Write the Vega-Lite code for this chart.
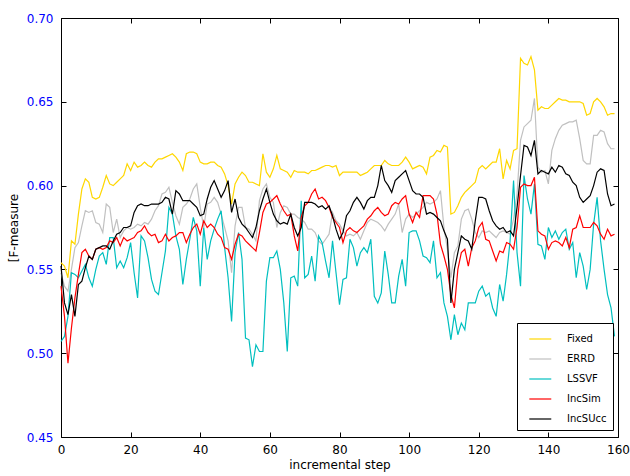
{
"$schema": "https://vega.github.io/schema/vega-lite/v6.json",
"width": 557, "height": 419,
"autosize": {"type": "none"},
"padding": {"left": 61, "top": 18, "right": 12, "bottom": 39},
"background": "white",
"config": {
  "font": "DejaVu Sans",
  "view": {"stroke": "black", "strokeWidth": 1},
  "axis": {"grid": false, "domain": false, "tickColor": "black", "tickSize": -5, "tickWidth": 1, "labelFlush": false,
           "labelFontSize": 12, "labelColor": "black", "titleFontSize": 12, "titleFontWeight": "normal", "titleColor": "black"}
},
"data": {"values": [
{"step":0,"Fixed":0.554,"ERRD":0.548,"LSSVF":0.507,"IncSim":0.540,"IncSUcc":0.552},
{"step":1,"Fixed":0.552,"ERRD":0.540,"LSSVF":0.510,"IncSim":0.522,"IncSUcc":0.530},
{"step":2,"Fixed":0.545,"ERRD":0.537,"LSSVF":0.522,"IncSim":0.494,"IncSUcc":0.523},
{"step":3,"Fixed":0.567,"ERRD":0.550,"LSSVF":0.548,"IncSim":0.515,"IncSUcc":0.535},
{"step":4,"Fixed":0.565,"ERRD":0.563,"LSSVF":0.547,"IncSim":0.533,"IncSUcc":0.522},
{"step":5,"Fixed":0.583,"ERRD":0.566,"LSSVF":0.545,"IncSim":0.547,"IncSUcc":0.541},
{"step":6,"Fixed":0.598,"ERRD":0.576,"LSSVF":0.549,"IncSim":0.560,"IncSUcc":0.543},
{"step":7,"Fixed":0.604,"ERRD":0.585,"LSSVF":0.553,"IncSim":0.562,"IncSUcc":0.551},
{"step":8,"Fixed":0.602,"ERRD":0.584,"LSSVF":0.545,"IncSim":0.558,"IncSUcc":0.558},
{"step":9,"Fixed":0.593,"ERRD":0.585,"LSSVF":0.540,"IncSim":0.556,"IncSUcc":0.556},
{"step":10,"Fixed":0.592,"ERRD":0.578,"LSSVF":0.550,"IncSim":0.562,"IncSUcc":0.562},
{"step":11,"Fixed":0.593,"ERRD":0.577,"LSSVF":0.558,"IncSim":0.563,"IncSUcc":0.563},
{"step":12,"Fixed":0.599,"ERRD":0.572,"LSSVF":0.560,"IncSim":0.562,"IncSUcc":0.564},
{"step":13,"Fixed":0.606,"ERRD":0.589,"LSSVF":0.553,"IncSim":0.563,"IncSUcc":0.564},
{"step":14,"Fixed":0.601,"ERRD":0.587,"LSSVF":0.569,"IncSim":0.567,"IncSUcc":0.562},
{"step":15,"Fixed":0.600,"ERRD":0.572,"LSSVF":0.569,"IncSim":0.566,"IncSUcc":0.567},
{"step":16,"Fixed":0.602,"ERRD":0.580,"LSSVF":0.551,"IncSim":0.569,"IncSUcc":0.571},
{"step":17,"Fixed":0.604,"ERRD":0.569,"LSSVF":0.555,"IncSim":0.564,"IncSUcc":0.572},
{"step":18,"Fixed":0.606,"ERRD":0.573,"LSSVF":0.551,"IncSim":0.569,"IncSUcc":0.575},
{"step":19,"Fixed":0.613,"ERRD":0.575,"LSSVF":0.557,"IncSim":0.567,"IncSUcc":0.575},
{"step":20,"Fixed":0.609,"ERRD":0.574,"LSSVF":0.566,"IncSim":0.568,"IncSUcc":0.576},
{"step":21,"Fixed":0.614,"ERRD":0.575,"LSSVF":0.548,"IncSim":0.569,"IncSUcc":0.584},
{"step":22,"Fixed":0.611,"ERRD":0.577,"LSSVF":0.533,"IncSim":0.572,"IncSUcc":0.588},
{"step":23,"Fixed":0.612,"ERRD":0.576,"LSSVF":0.570,"IncSim":0.573,"IncSUcc":0.589},
{"step":24,"Fixed":0.614,"ERRD":0.578,"LSSVF":0.567,"IncSim":0.576,"IncSUcc":0.588},
{"step":25,"Fixed":0.612,"ERRD":0.577,"LSSVF":0.557,"IncSim":0.572,"IncSUcc":0.588},
{"step":26,"Fixed":0.611,"ERRD":0.580,"LSSVF":0.544,"IncSim":0.570,"IncSUcc":0.589},
{"step":27,"Fixed":0.614,"ERRD":0.585,"LSSVF":0.537,"IncSim":0.571,"IncSUcc":0.589},
{"step":28,"Fixed":0.616,"ERRD":0.588,"LSSVF":0.535,"IncSim":0.566,"IncSUcc":0.589},
{"step":29,"Fixed":0.616,"ERRD":0.595,"LSSVF":0.548,"IncSim":0.567,"IncSUcc":0.590},
{"step":30,"Fixed":0.617,"ERRD":0.596,"LSSVF":0.561,"IncSim":0.571,"IncSUcc":0.593},
{"step":31,"Fixed":0.618,"ERRD":0.599,"LSSVF":0.587,"IncSim":0.567,"IncSUcc":0.592},
{"step":32,"Fixed":0.619,"ERRD":0.590,"LSSVF":0.583,"IncSim":0.569,"IncSUcc":0.583},
{"step":33,"Fixed":0.617,"ERRD":0.582,"LSSVF":0.570,"IncSim":0.570,"IncSUcc":0.597},
{"step":34,"Fixed":0.614,"ERRD":0.577,"LSSVF":0.562,"IncSim":0.572,"IncSUcc":0.595},
{"step":35,"Fixed":0.609,"ERRD":0.587,"LSSVF":0.541,"IncSim":0.572,"IncSUcc":0.591},
{"step":36,"Fixed":0.619,"ERRD":0.589,"LSSVF":0.556,"IncSim":0.566,"IncSUcc":0.591},
{"step":37,"Fixed":0.620,"ERRD":0.592,"LSSVF":0.568,"IncSim":0.571,"IncSUcc":0.591},
{"step":38,"Fixed":0.620,"ERRD":0.598,"LSSVF":0.581,"IncSim":0.575,"IncSUcc":0.589},
{"step":39,"Fixed":0.619,"ERRD":0.601,"LSSVF":0.573,"IncSim":0.577,"IncSUcc":0.587},
{"step":40,"Fixed":0.614,"ERRD":0.587,"LSSVF":0.540,"IncSim":0.571,"IncSUcc":0.582},
{"step":41,"Fixed":0.613,"ERRD":0.575,"LSSVF":0.575,"IncSim":0.579,"IncSUcc":0.583},
{"step":42,"Fixed":0.613,"ERRD":0.589,"LSSVF":0.556,"IncSim":0.575,"IncSUcc":0.592},
{"step":43,"Fixed":0.614,"ERRD":0.590,"LSSVF":0.567,"IncSim":0.577,"IncSUcc":0.599},
{"step":44,"Fixed":0.614,"ERRD":0.593,"LSSVF":0.574,"IncSim":0.575,"IncSUcc":0.603},
{"step":45,"Fixed":0.612,"ERRD":0.590,"LSSVF":0.580,"IncSim":0.571,"IncSUcc":0.598},
{"step":46,"Fixed":0.611,"ERRD":0.583,"LSSVF":0.585,"IncSim":0.569,"IncSUcc":0.593},
{"step":47,"Fixed":0.607,"ERRD":0.575,"LSSVF":0.563,"IncSim":0.563,"IncSUcc":0.597},
{"step":48,"Fixed":0.600,"ERRD":0.567,"LSSVF":0.545,"IncSim":0.562,"IncSUcc":0.603},
{"step":49,"Fixed":0.589,"ERRD":0.548,"LSSVF":0.519,"IncSim":0.556,"IncSUcc":0.584},
{"step":50,"Fixed":0.601,"ERRD":0.576,"LSSVF":0.560,"IncSim":0.565,"IncSUcc":0.592},
{"step":51,"Fixed":0.605,"ERRD":0.587,"LSSVF":0.572,"IncSim":0.571,"IncSUcc":0.581},
{"step":52,"Fixed":0.608,"ERRD":0.587,"LSSVF":0.556,"IncSim":0.570,"IncSUcc":0.577},
{"step":53,"Fixed":0.606,"ERRD":0.575,"LSSVF":0.509,"IncSim":0.567,"IncSUcc":0.575},
{"step":54,"Fixed":0.602,"ERRD":0.574,"LSSVF":0.508,"IncSim":0.565,"IncSUcc":0.572},
{"step":55,"Fixed":0.602,"ERRD":0.571,"LSSVF":0.492,"IncSim":0.563,"IncSUcc":0.569},
{"step":56,"Fixed":0.601,"ERRD":0.567,"LSSVF":0.505,"IncSim":0.561,"IncSUcc":0.575},
{"step":57,"Fixed":0.600,"ERRD":0.591,"LSSVF":0.501,"IncSim":0.572,"IncSUcc":0.585},
{"step":58,"Fixed":0.619,"ERRD":0.598,"LSSVF":0.501,"IncSim":0.584,"IncSUcc":0.592},
{"step":59,"Fixed":0.608,"ERRD":0.601,"LSSVF":0.543,"IncSim":0.589,"IncSUcc":0.598},
{"step":60,"Fixed":0.605,"ERRD":0.593,"LSSVF":0.557,"IncSim":0.590,"IncSUcc":0.590},
{"step":61,"Fixed":0.610,"ERRD":0.590,"LSSVF":0.557,"IncSim":0.592,"IncSUcc":0.583},
{"step":62,"Fixed":0.618,"ERRD":0.575,"LSSVF":0.561,"IncSim":0.594,"IncSUcc":0.579},
{"step":63,"Fixed":0.610,"ERRD":0.584,"LSSVF":0.550,"IncSim":0.589,"IncSUcc":0.577},
{"step":64,"Fixed":0.609,"ERRD":0.588,"LSSVF":0.530,"IncSim":0.585,"IncSUcc":0.578},
{"step":65,"Fixed":0.608,"ERRD":0.587,"LSSVF":0.501,"IncSim":0.582,"IncSUcc":0.577},
{"step":66,"Fixed":0.605,"ERRD":0.583,"LSSVF":0.545,"IncSim":0.583,"IncSUcc":0.583},
{"step":67,"Fixed":0.609,"ERRD":0.583,"LSSVF":0.546,"IncSim":0.570,"IncSUcc":0.575},
{"step":68,"Fixed":0.608,"ERRD":0.581,"LSSVF":0.540,"IncSim":0.561,"IncSUcc":0.570},
{"step":69,"Fixed":0.608,"ERRD":0.580,"LSSVF":0.591,"IncSim":0.581,"IncSUcc":0.575},
{"step":70,"Fixed":0.608,"ERRD":0.578,"LSSVF":0.545,"IncSim":0.588,"IncSUcc":0.590},
{"step":71,"Fixed":0.607,"ERRD":0.574,"LSSVF":0.547,"IncSim":0.590,"IncSUcc":0.590},
{"step":72,"Fixed":0.609,"ERRD":0.574,"LSSVF":0.558,"IncSim":0.595,"IncSUcc":0.590},
{"step":73,"Fixed":0.609,"ERRD":0.572,"LSSVF":0.543,"IncSim":0.598,"IncSUcc":0.589},
{"step":74,"Fixed":0.610,"ERRD":0.567,"LSSVF":0.570,"IncSim":0.592,"IncSUcc":0.587},
{"step":75,"Fixed":0.611,"ERRD":0.565,"LSSVF":0.566,"IncSim":0.593,"IncSUcc":0.588},
{"step":76,"Fixed":0.612,"ERRD":0.568,"LSSVF":0.555,"IncSim":0.591,"IncSUcc":0.586},
{"step":77,"Fixed":0.612,"ERRD":0.571,"LSSVF":0.545,"IncSim":0.587,"IncSUcc":0.588},
{"step":78,"Fixed":0.611,"ERRD":0.584,"LSSVF":0.567,"IncSim":0.581,"IncSUcc":0.582},
{"step":79,"Fixed":0.612,"ERRD":0.579,"LSSVF":0.548,"IncSim":0.578,"IncSUcc":0.574},
{"step":80,"Fixed":0.606,"ERRD":0.577,"LSSVF":0.529,"IncSim":0.575,"IncSUcc":0.568},
{"step":81,"Fixed":0.608,"ERRD":0.573,"LSSVF":0.544,"IncSim":0.566,"IncSUcc":0.572},
{"step":82,"Fixed":0.608,"ERRD":0.570,"LSSVF":0.545,"IncSim":0.573,"IncSUcc":0.582},
{"step":83,"Fixed":0.608,"ERRD":0.571,"LSSVF":0.568,"IncSim":0.575,"IncSUcc":0.585},
{"step":84,"Fixed":0.608,"ERRD":0.570,"LSSVF":0.563,"IncSim":0.573,"IncSUcc":0.590},
{"step":85,"Fixed":0.608,"ERRD":0.572,"LSSVF":0.552,"IncSim":0.572,"IncSUcc":0.593},
{"step":86,"Fixed":0.606,"ERRD":0.568,"LSSVF":0.560,"IncSim":0.574,"IncSUcc":0.590},
{"step":87,"Fixed":0.607,"ERRD":0.573,"LSSVF":0.563,"IncSim":0.576,"IncSUcc":0.586},
{"step":88,"Fixed":0.608,"ERRD":0.578,"LSSVF":0.560,"IncSim":0.580,"IncSUcc":0.591},
{"step":89,"Fixed":0.610,"ERRD":0.580,"LSSVF":0.568,"IncSim":0.582,"IncSUcc":0.593},
{"step":90,"Fixed":0.612,"ERRD":0.579,"LSSVF":0.534,"IncSim":0.585,"IncSUcc":0.593},
{"step":91,"Fixed":0.612,"ERRD":0.578,"LSSVF":0.530,"IncSim":0.587,"IncSUcc":0.600},
{"step":92,"Fixed":0.612,"ERRD":0.576,"LSSVF":0.536,"IncSim":0.584,"IncSUcc":0.612},
{"step":93,"Fixed":0.615,"ERRD":0.573,"LSSVF":0.561,"IncSim":0.582,"IncSUcc":0.603},
{"step":94,"Fixed":0.613,"ERRD":0.577,"LSSVF":0.547,"IncSim":0.583,"IncSUcc":0.600},
{"step":95,"Fixed":0.612,"ERRD":0.580,"LSSVF":0.530,"IncSim":0.588,"IncSUcc":0.596},
{"step":96,"Fixed":0.612,"ERRD":0.583,"LSSVF":0.530,"IncSim":0.590,"IncSUcc":0.603},
{"step":97,"Fixed":0.612,"ERRD":0.589,"LSSVF":0.546,"IncSim":0.589,"IncSUcc":0.605},
{"step":98,"Fixed":0.614,"ERRD":0.572,"LSSVF":0.556,"IncSim":0.592,"IncSUcc":0.607},
{"step":99,"Fixed":0.617,"ERRD":0.580,"LSSVF":0.540,"IncSim":0.594,"IncSUcc":0.609},
{"step":100,"Fixed":0.614,"ERRD":0.583,"LSSVF":0.572,"IncSim":0.583,"IncSUcc":0.603},
{"step":101,"Fixed":0.610,"ERRD":0.581,"LSSVF":0.573,"IncSim":0.578,"IncSUcc":0.597},
{"step":102,"Fixed":0.611,"ERRD":0.583,"LSSVF":0.573,"IncSim":0.584,"IncSUcc":0.595},
{"step":103,"Fixed":0.612,"ERRD":0.585,"LSSVF":0.567,"IncSim":0.581,"IncSUcc":0.595},
{"step":104,"Fixed":0.611,"ERRD":0.587,"LSSVF":0.558,"IncSim":0.594,"IncSUcc":0.593},
{"step":105,"Fixed":0.607,"ERRD":0.590,"LSSVF":0.557,"IncSim":0.594,"IncSUcc":0.583},
{"step":106,"Fixed":0.617,"ERRD":0.589,"LSSVF":0.554,"IncSim":0.594,"IncSUcc":0.584},
{"step":107,"Fixed":0.618,"ERRD":0.590,"LSSVF":0.567,"IncSim":0.592,"IncSUcc":0.583},
{"step":108,"Fixed":0.621,"ERRD":0.592,"LSSVF":0.545,"IncSim":0.583,"IncSUcc":0.581},
{"step":109,"Fixed":0.620,"ERRD":0.597,"LSSVF":0.548,"IncSim":0.565,"IncSUcc":0.579},
{"step":110,"Fixed":0.624,"ERRD":0.575,"LSSVF":0.530,"IncSim":0.558,"IncSUcc":0.573},
{"step":111,"Fixed":0.623,"ERRD":0.562,"LSSVF":0.522,"IncSim":0.550,"IncSUcc":0.568},
{"step":112,"Fixed":0.583,"ERRD":0.545,"LSSVF":0.508,"IncSim":0.535,"IncSUcc":0.530},
{"step":113,"Fixed":0.584,"ERRD":0.560,"LSSVF":0.523,"IncSim":0.527,"IncSUcc":0.550},
{"step":114,"Fixed":0.588,"ERRD":0.564,"LSSVF":0.511,"IncSim":0.550,"IncSUcc":0.560},
{"step":115,"Fixed":0.593,"ERRD":0.580,"LSSVF":0.518,"IncSim":0.560,"IncSUcc":0.570},
{"step":116,"Fixed":0.596,"ERRD":0.585,"LSSVF":0.514,"IncSim":0.562,"IncSUcc":0.568},
{"step":117,"Fixed":0.598,"ERRD":0.586,"LSSVF":0.530,"IncSim":0.552,"IncSUcc":0.567},
{"step":118,"Fixed":0.600,"ERRD":0.580,"LSSVF":0.530,"IncSim":0.563,"IncSUcc":0.562},
{"step":119,"Fixed":0.602,"ERRD":0.572,"LSSVF":0.530,"IncSim":0.567,"IncSUcc":0.579},
{"step":120,"Fixed":0.610,"ERRD":0.569,"LSSVF":0.537,"IncSim":0.575,"IncSUcc":0.593},
{"step":121,"Fixed":0.612,"ERRD":0.573,"LSSVF":0.540,"IncSim":0.578,"IncSUcc":0.593},
{"step":122,"Fixed":0.610,"ERRD":0.572,"LSSVF":0.534,"IncSim":0.568,"IncSUcc":0.592},
{"step":123,"Fixed":0.612,"ERRD":0.573,"LSSVF":0.536,"IncSim":0.567,"IncSUcc":0.585},
{"step":124,"Fixed":0.614,"ERRD":0.571,"LSSVF":0.527,"IncSim":0.561,"IncSUcc":0.579},
{"step":125,"Fixed":0.614,"ERRD":0.569,"LSSVF":0.522,"IncSim":0.555,"IncSUcc":0.576},
{"step":126,"Fixed":0.622,"ERRD":0.572,"LSSVF":0.541,"IncSim":0.561,"IncSUcc":0.574},
{"step":127,"Fixed":0.604,"ERRD":0.573,"LSSVF":0.531,"IncSim":0.560,"IncSUcc":0.575},
{"step":128,"Fixed":0.615,"ERRD":0.572,"LSSVF":0.547,"IncSim":0.566,"IncSUcc":0.572},
{"step":129,"Fixed":0.610,"ERRD":0.571,"LSSVF":0.567,"IncSim":0.565,"IncSUcc":0.573},
{"step":130,"Fixed":0.621,"ERRD":0.580,"LSSVF":0.603,"IncSim":0.562,"IncSUcc":0.570},
{"step":131,"Fixed":0.622,"ERRD":0.595,"LSSVF":0.560,"IncSim":0.575,"IncSUcc":0.587},
{"step":132,"Fixed":0.676,"ERRD":0.627,"LSSVF":0.540,"IncSim":0.599,"IncSUcc":0.606},
{"step":133,"Fixed":0.673,"ERRD":0.635,"LSSVF":0.606,"IncSim":0.601,"IncSUcc":0.624},
{"step":134,"Fixed":0.672,"ERRD":0.637,"LSSVF":0.592,"IncSim":0.600,"IncSUcc":0.623},
{"step":135,"Fixed":0.677,"ERRD":0.639,"LSSVF":0.583,"IncSim":0.600,"IncSUcc":0.618},
{"step":136,"Fixed":0.669,"ERRD":0.652,"LSSVF":0.601,"IncSim":0.605,"IncSUcc":0.627},
{"step":137,"Fixed":0.645,"ERRD":0.611,"LSSVF":0.565,"IncSim":0.573,"IncSUcc":0.607},
{"step":138,"Fixed":0.647,"ERRD":0.608,"LSSVF":0.564,"IncSim":0.571,"IncSUcc":0.609},
{"step":139,"Fixed":0.646,"ERRD":0.609,"LSSVF":0.556,"IncSim":0.570,"IncSUcc":0.608},
{"step":140,"Fixed":0.646,"ERRD":0.601,"LSSVF":0.575,"IncSim":0.562,"IncSUcc":0.607},
{"step":141,"Fixed":0.648,"ERRD":0.621,"LSSVF":0.569,"IncSim":0.566,"IncSUcc":0.611},
{"step":142,"Fixed":0.650,"ERRD":0.628,"LSSVF":0.573,"IncSim":0.567,"IncSUcc":0.608},
{"step":143,"Fixed":0.652,"ERRD":0.633,"LSSVF":0.568,"IncSim":0.566,"IncSUcc":0.612},
{"step":144,"Fixed":0.651,"ERRD":0.636,"LSSVF":0.572,"IncSim":0.564,"IncSUcc":0.611},
{"step":145,"Fixed":0.651,"ERRD":0.637,"LSSVF":0.574,"IncSim":0.569,"IncSUcc":0.607},
{"step":146,"Fixed":0.650,"ERRD":0.638,"LSSVF":0.562,"IncSim":0.563,"IncSUcc":0.606},
{"step":147,"Fixed":0.650,"ERRD":0.638,"LSSVF":0.566,"IncSim":0.574,"IncSUcc":0.602},
{"step":148,"Fixed":0.650,"ERRD":0.639,"LSSVF":0.545,"IncSim":0.575,"IncSUcc":0.600},
{"step":149,"Fixed":0.650,"ERRD":0.628,"LSSVF":0.560,"IncSim":0.582,"IncSUcc":0.593},
{"step":150,"Fixed":0.649,"ERRD":0.615,"LSSVF":0.552,"IncSim":0.575,"IncSUcc":0.590},
{"step":151,"Fixed":0.642,"ERRD":0.613,"LSSVF":0.538,"IncSim":0.575,"IncSUcc":0.592},
{"step":152,"Fixed":0.643,"ERRD":0.613,"LSSVF":0.550,"IncSim":0.575,"IncSUcc":0.594},
{"step":153,"Fixed":0.650,"ERRD":0.630,"LSSVF":0.577,"IncSim":0.578,"IncSUcc":0.600},
{"step":154,"Fixed":0.652,"ERRD":0.630,"LSSVF":0.593,"IncSim":0.576,"IncSUcc":0.608},
{"step":155,"Fixed":0.650,"ERRD":0.633,"LSSVF":0.567,"IncSim":0.571,"IncSUcc":0.610},
{"step":156,"Fixed":0.647,"ERRD":0.632,"LSSVF":0.550,"IncSim":0.568,"IncSUcc":0.609},
{"step":157,"Fixed":0.642,"ERRD":0.625,"LSSVF":0.535,"IncSim":0.574,"IncSUcc":0.595},
{"step":158,"Fixed":0.643,"ERRD":0.622,"LSSVF":0.527,"IncSim":0.570,"IncSUcc":0.588},
{"step":159,"Fixed":0.643,"ERRD":0.622,"LSSVF":0.510,"IncSim":0.571,"IncSUcc":0.589}
]},
"transform": [{"fold": ["Fixed", "ERRD", "LSSVF", "IncSim", "IncSUcc"], "as": ["method", "value"]}],
"layer": [
  {
    "mark": {"type": "line", "strokeWidth": 1.2},
    "encoding": {
      "x": {"field": "step", "type": "quantitative", "scale": {"domain": [0, 160], "nice": false},
            "axis": {"orient": "bottom", "values": [0, 20, 40, 60, 80, 100, 120, 140, 160], "title": "incremental step", "labelPadding": 12, "titlePadding": 4}},
      "y": {"field": "value", "type": "quantitative", "scale": {"domain": [0.45, 0.70], "nice": false, "zero": false},
            "axis": {"orient": "left", "values": [0.45, 0.5, 0.55, 0.6, 0.65, 0.7], "format": ".2f", "labelColor": "#0000FF", "title": "[F-measure", "labelPadding": 13, "titlePadding": 6}},
      "color": {"field": "method", "type": "nominal",
                "scale": {"domain": ["Fixed", "ERRD", "LSSVF", "IncSim", "IncSUcc"], "range": ["#FFD700", "#C0C0C0", "#00BFBF", "#FF0000", "#000000"]},
                "legend": {"orient": "none", "legendX": 456, "legendY": 305, "title": null, "strokeColor": "black", "fillColor": "white",
                           "padding": 6, "cornerRadius": 0, "symbolType": "M-0.41,0H2.03", "symbolSize": 324, "symbolStrokeWidth": 1.2,
                           "labelFontSize": 10, "labelOffset": 24, "rowPadding": 5, "labelColor": "black"}}
    }
  },
  {
    "mark": {"type": "point", "opacity": 0},
    "encoding": {
      "x": {"field": "step", "type": "quantitative", "axis": {"orient": "top", "values": [0, 20, 40, 60, 80, 100, 120, 140, 160], "labels": false, "title": null}},
      "y": {"field": "value", "type": "quantitative", "axis": {"orient": "right", "values": [0.45, 0.5, 0.55, 0.6, 0.65, 0.7], "labels": false, "title": null}}
    }
  }
]
}
